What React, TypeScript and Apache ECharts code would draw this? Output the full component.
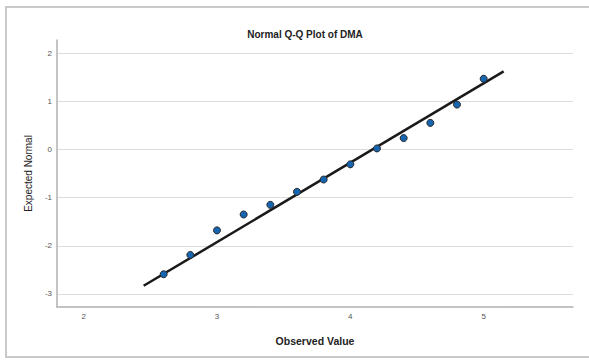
import React, { useEffect, useRef } from "react";
import * as echarts from "echarts";

const titleText = "Normal Q-Q Plot of DMA";
const xAxisName = "Observed Value";
const yAxisName = "Expected Normal";

const observedValues = [2.6, 2.8, 3.0, 3.2, 3.4, 3.6, 3.8, 4.0, 4.2, 4.4, 4.6, 4.8, 5.0];
const expectedNormal = [-2.59, -2.19, -1.68, -1.35, -1.15, -0.88, -0.625, -0.31, 0.02, 0.235, 0.55, 0.93, 1.465];

const fitLineX = [2.45, 5.15];
const fitLineY = [-2.83, 1.62];

const xRange = [1.8, 5.67];
const yRange = [-3.27, 2.27];

export default function App() {
  const ref = useRef<HTMLDivElement>(null);
  useEffect(() => {
    if (!ref.current) return;
    const chart = echarts.init(ref.current, null, { renderer: "svg" });
    const font = "Liberation Sans, Arial, sans-serif";
    chart.setOption({
      animation: false,
      backgroundColor: "#ffffff",
      textStyle: { fontFamily: font },
      graphic: [
        {
          type: "rect",
          shape: { x: 6, y: 7, width: 620, height: 350 },
          style: { fill: "none", stroke: "#c9c9c9", lineWidth: 2 },
          silent: true,
          z: -1,
        },
      ],
      title: {
        text: titleText,
        left: 300,
        top: 24,
        textAlign: "center",
        textStyle: { fontSize: 10, fontWeight: "bold", color: "#222", fontFamily: font },
      },
      grid: { left: 57, right: 16, top: 40, bottom: 53 },
      xAxis: {
        type: "value",
        min: xRange[0],
        max: xRange[1],
        minInterval: 1,
        maxInterval: 1,
        name: xAxisName,
        nameLocation: "middle",
        nameGap: 28,
        nameTextStyle: { fontSize: 10.5, fontWeight: "bold", color: "#222", fontFamily: font },
        axisLine: { show: true, onZero: false, lineStyle: { color: "#b0b0b0", width: 1.5 } },
        axisTick: { show: false },
        splitLine: { show: false },
        axisLabel: {
          showMinLabel: false,
          showMaxLabel: false,
          fontSize: 8,
          color: "#555555",
          margin: 5,
          fontFamily: font,
        },
      },
      yAxis: {
        type: "value",
        min: yRange[0],
        max: yRange[1],
        minInterval: 1,
        maxInterval: 1,
        name: yAxisName,
        nameLocation: "middle",
        nameGap: 22,
        nameTextStyle: { fontSize: 10, color: "#222", fontFamily: font },
        axisLine: { show: true, onZero: false, lineStyle: { color: "#b0b0b0", width: 1.5 } },
        axisTick: { show: false },
        splitLine: {
          show: true,
          showMinLine: false,
          showMaxLine: false,
          lineStyle: { color: "#dcdcdc", width: 1.2 },
        },
        axisLabel: {
          showMinLabel: false,
          showMaxLabel: false,
          fontSize: 8,
          color: "#555555",
          margin: 5,
          fontFamily: font,
        },
      },
      series: [
        {
          type: "line",
          data: fitLineX.map((x, i) => [x, fitLineY[i]]),
          symbol: "none",
          lineStyle: { color: "#1a1a1a", width: 2.5 },
          z: 2,
        },
        {
          type: "scatter",
          data: observedValues.map((x, i) => [x, expectedNormal[i]]),
          symbol: "circle",
          symbolSize: 7,
          itemStyle: { color: "#1565b0", borderColor: "#2a2a2a", borderWidth: 1, opacity: 1 },
          z: 3,
        },
      ],
    });
    return () => chart.dispose();
  }, []);
  return (
    <div
      ref={ref}
      style={{ position: "absolute", left: 0, top: 0, width: 589, height: 360 }}
    />
  );
}
